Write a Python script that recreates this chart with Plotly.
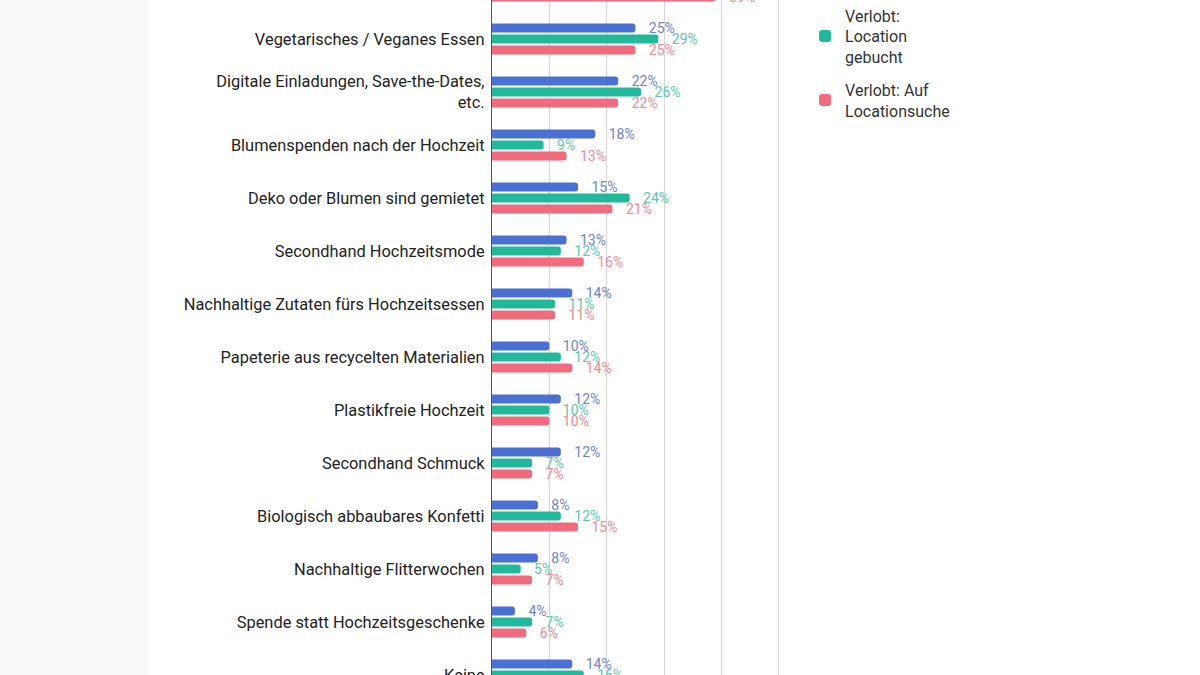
import plotly.graph_objects as go

categories = [
    "Regionale / saisonale Produkte",
    "Vegetarisches / Veganes Essen",
    "Digitale Einladungen, Save-the-Dates,<br>etc.",
    "Blumenspenden nach der Hochzeit",
    "Deko oder Blumen sind gemietet",
    "Secondhand Hochzeitsmode",
    "Nachhaltige Zutaten fürs Hochzeitsessen",
    "Papeterie aus recycelten Materialien",
    "Plastikfreie Hochzeit",
    "Secondhand Schmuck",
    "Biologisch abbaubares Konfetti",
    "Nachhaltige Flitterwochen",
    "Spende statt Hochzeitsgeschenke",
    "Keine",
]

series_names = ["Verheiratet", "Verlobt:<br>Location<br>gebucht", "Verlobt: Auf<br>Locationsuche"]
verheiratet = [34, 25, 22, 18, 15, 13, 14, 10, 12, 12, 8, 8, 4, 14]
location_gebucht = [36, 29, 26, 9, 24, 12, 11, 12, 10, 7, 12, 5, 7, 16]
locationsuche = [39, 25, 22, 13, 21, 16, 11, 14, 10, 7, 15, 7, 6, 12]

bar_colors = ["#4a70d4", "#22b99b", "#f06b7d"]
label_colors = ["#6c84c8", "#5cc6ae", "#ee8a97"]

fig = go.Figure()
for i, (name, vals, bc, lc) in enumerate(zip(series_names, [verheiratet, location_gebucht, locationsuche], bar_colors, label_colors)):
    fig.add_trace(go.Bar(
        y=categories, x=vals, name=name, orientation="h", legendgroup=f"g{i}",
        marker=dict(color=bc, line=dict(width=0)),
        text=[f"\u00a0\u00a0\u00a0{v}%" for v in vals],
        textposition="outside", constraintext="none", cliponaxis=True,
        textfont=dict(family="Roboto", size=14, color=lc),
        hoverinfo="skip",
    ))

# light gray area left of the chart box
fig.add_shape(type="rect", xref="paper", yref="paper", x0=-2.0, x1=(148 - 492) / 288, y0=0, y1=1,
              fillcolor="#fafafa", line=dict(width=0), layer="below")

fig.update_layout(
    width=1200, height=675,
    margin=dict(l=492, r=420, t=0, b=0, autoexpand=False),
    paper_bgcolor="white", plot_bgcolor="white",
    barmode="group", bargap=0.377, bargroupgap=0.18, barcornerradius=3,
    font=dict(family="Roboto", color="#222222"),
    showlegend=True,
    legend=dict(
        x=1.087, xanchor="left", y=1.051, yanchor="top", traceorder="grouped",
        tracegroupgap=9,
        font=dict(family="Roboto", size=16, color="#333333"),
        itemclick=False, bgcolor="rgba(0,0,0,0)",
    ),
    xaxis=dict(range=[0, 50.2], tickvals=[10, 20, 30, 40, 50], showticklabels=False, showgrid=True,
               gridcolor="#d4d4d4", gridwidth=1, zeroline=False, showline=False, ticks=""),
    yaxis=dict(range=[13, 0.264], showgrid=False, zeroline=False,
               showline=True, linecolor="#555555", linewidth=1.2,
               ticks="", ticklabelstandoff=3,
               tickfont=dict(family="Roboto", size=16.4, color="#222222")),
)

fig.write_html("out.html", config={"displayModeBar": False},
               post_script="document.body.style.margin='0';")
